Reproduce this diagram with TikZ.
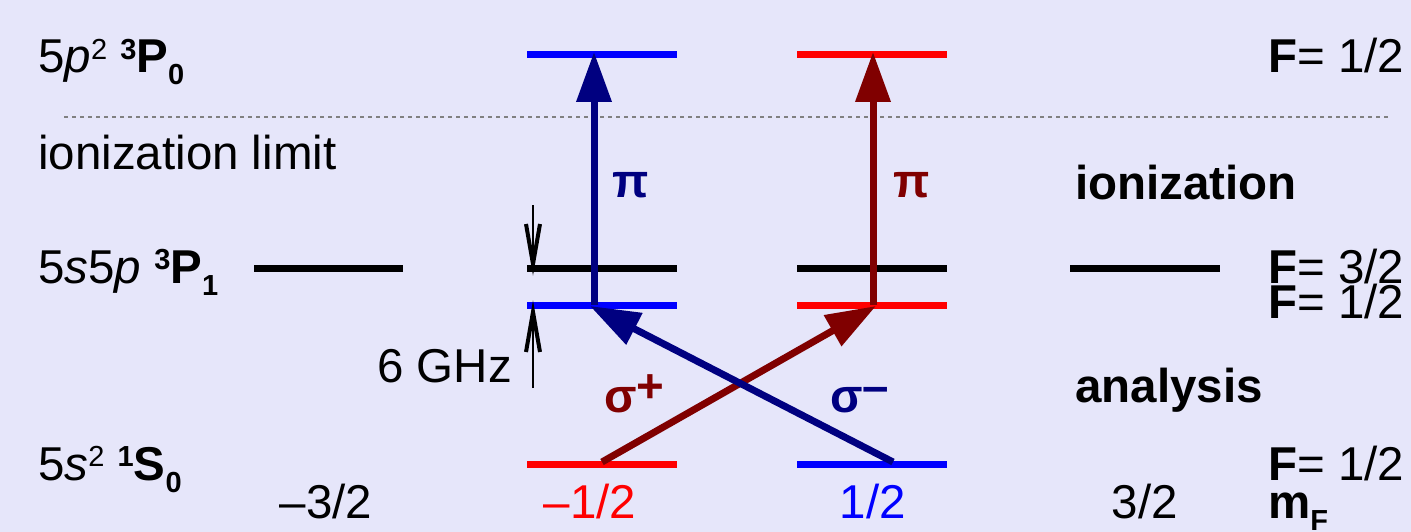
\documentclass[tikz,border=0pt]{standalone}
\usepackage{fontspec}
\setmainfont{Liberation Sans}
\usetikzlibrary{arrows.meta}
\definecolor{bg}{RGB}{230,230,250}
\definecolor{lvblue}{RGB}{0,0,255}
\definecolor{lvred}{RGB}{255,0,0}
\definecolor{navyc}{RGB}{0,0,128}
\definecolor{maroonc}{RGB}{128,0,0}
\newcommand\mysup[1]{\raisebox{13.5pt}{\fontsize{29}{31}\selectfont #1}}
\newcommand\mysub[1]{\raisebox{-12pt}{\fontsize{29}{31}\selectfont #1}}
\begin{document}
\begin{tikzpicture}[x=1pt,y=-1pt,
  every node/.style={inner sep=0pt, font=\fontsize{47.5}{52}\selectfont},
  level/.style={line width=7pt},
  beam/.style={line width=7pt, -{Triangle[length=50pt,width=34pt]}},
  gapline/.style={line width=1.5pt},
  barb/.style={line width=4pt, line join=miter},
  lbl/.style={anchor=base west},
  glabel/.style={font=\fontsize{47.5}{52}\selectfont\bfseries}]
\fill[bg] (0,0) rectangle (1411,532);
\useasboundingbox (0,0) rectangle (1411,532);

% ionization limit
\draw[gray, line width=1.2pt, dash pattern=on 4pt off 4pt] (64,117) coordinate (dl) -- (1390,117) coordinate (dr);

% levels
\draw[level, lvblue] (527,55) -- (677,55);
\draw[level, lvred] (797,55) -- (947,55);
\draw[level, black] (254,268) -- (403,268);
\draw[level, black] (527,268) -- (677,268);
\draw[level, black] (797,268) -- (947,268);
\draw[level, black] (1070,268) -- (1220,268);
\draw[level, lvblue] (527,305) -- (677,305);
\draw[level, lvred] (797,305) -- (947,305);
\draw[level, lvred] (527,464) -- (677,464);
\draw[level, lvblue] (797,464) -- (947,464);

% coordinates for transitions
\coordinate (tL) at (594,52);
\coordinate (tR) at (873,52);
\coordinate (mL) at (594,305);
\coordinate (mR) at (873,305);
\coordinate (mLt) at (590,306);
\coordinate (mRt) at (876,306);
\coordinate (gL) at (602,462);
\coordinate (gR) at (893,462);

\draw[beam, navyc] (mL) -- (tL);
\draw[beam, maroonc] (mR) -- (tR);
\draw[beam, maroonc] (gL) -- (mRt);
\draw[beam, navyc] (gR) -- (mLt);

% 6 GHz markers
\coordinate (a1) at (533,205);
\coordinate (a1e) at (533,264);
\coordinate (a2) at (533,388);
\coordinate (a2e) at (533,312);
\draw[gapline] (a1) -- (a1e);
\draw[barb] ([shift={(-7,-40)}]a1e) -- (a1e) -- ([shift={(7,-40)}]a1e);
\draw[gapline] (a2) -- (a2e);
\draw[barb] ([shift={(-7,40)}]a2e) -- (a2e) -- ([shift={(7,40)}]a2e);
\node[anchor=base east] (ghz) at (512,382) {6 GHz};

% transition labels
\node[glabel, navyc] (p1) at (631,185) {π};
\node[glabel, maroonc] (p2) at (912,185) {π};
\node[glabel, maroonc, anchor=base west] (sp) at (604,412) {σ\raisebox{10pt}{+}};
\node[glabel, navyc, anchor=base west] (sm) at (830,412) {σ\raisebox{10pt}{–}};

% left labels
\node[lbl] (l1) at (38,73) {5\textit{p}\mysup{2} \mysup{\bfseries 3}\textbf{P}\mysub{\bfseries 0}};
\node[lbl] (l2) at (38,170) {ionization limit};
\node[lbl] (l3) at (38,283) {5\textit{s}5\textit{p} \mysup{\bfseries 3}\textbf{P}\mysub{\bfseries 1}};
\node[lbl] (l4) at (38,480) {5\textit{s}\mysup{2} \mysup{\bfseries 1}\textbf{S}\mysub{\bfseries 0}};

% mF values
\node[anchor=base] (m1) at (326,518) {–3/2};
\node[anchor=base, lvred] (m2) at (590,518) {–1/2};
\node[anchor=base, lvblue] (m3) at (873,518) {1/2};
\node[anchor=base] (m4) at (1145,518) {3/2};

% right labels
\node[lbl] (r1) at (1268,73) {\textbf{F}= 1/2};
\node[lbl] (r2) at (1268,283) {\textbf{F}= 3/2};
\node[lbl] (r3) at (1268,318) {\textbf{F}= 1/2};
\node[lbl] (r4) at (1268,480) {\textbf{F}= 1/2};
\node[lbl] (r5) at (1268,518) {\textbf{m}\mysub{\bfseries F}};
\node[lbl, glabel] (ion) at (1075,200) {ionization};
\node[lbl, glabel] (ana) at (1075,402) {analysis};
\end{tikzpicture}
\end{document}
